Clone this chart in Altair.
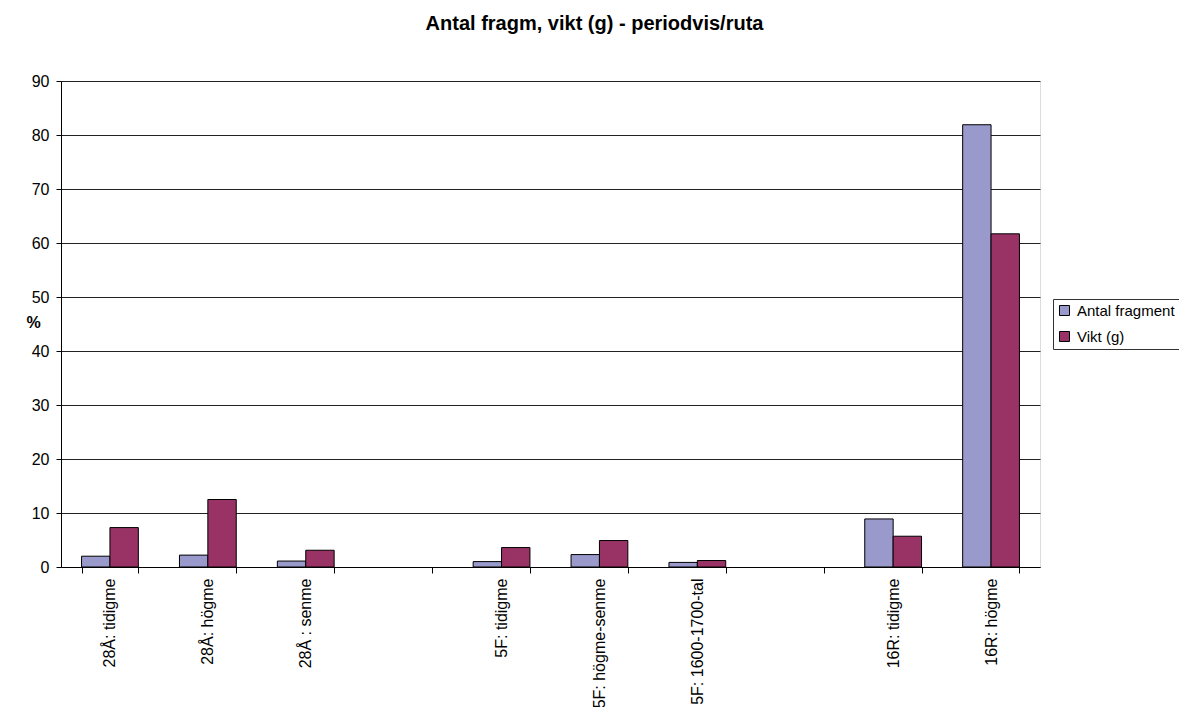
import altair as alt
import pandas as pd

categories = ["28Å: tidigme", "28Å:  högme", "28Å : senme", " ",
              "5F: tidigme", "5F: högme-senme", "5F: 1600-1700-tal", "  ",
              "16R: tidigme", "16R: högme"]
antal_fragment = [2.0, 2.2, 1.1, None, 1.0, 2.3, 0.85, None, 8.9, 81.9]
vikt_g = [7.3, 12.5, 3.1, None, 3.6, 4.9, 1.2, None, 5.7, 61.7]
series = ["Antal fragment", "Vikt (g)"]
colors = ["#9999CC", "#993366"]

rows = []
for c, a, v in zip(categories, antal_fragment, vikt_g):
    if a is not None:
        rows.append({"kategori": c, "serie": series[0], "varde": a})
    if v is not None:
        rows.append({"kategori": c, "serie": series[1], "varde": v})
df = pd.DataFrame(rows)

FONT = "Liberation Sans"

chart = alt.Chart(df).mark_bar(stroke="black", strokeWidth=1).encode(
    x=alt.X("kategori:N", sort=categories,
            scale=alt.Scale(domain=categories, paddingInner=0.42, paddingOuter=0.21),
            axis=alt.Axis(title=None, labelAngle=-90, tickBand="extent",
                          domainColor="black", tickColor="black", tickSize=6,
                          labelFontSize=16, labelFont=FONT, labelColor="black",
                          labelPadding=5, grid=False, labelLimit=300)),
    xOffset=alt.XOffset("serie:N", sort=series),
    y=alt.Y("varde:Q",
            scale=alt.Scale(domain=[0, 90], nice=False),
            axis=alt.Axis(title="%", titleAngle=0, titleX=-28, titleY=241,
                          titleAlign="center", titleBaseline="middle",
                          titleFont=FONT, titleFontSize=16, titleFontWeight="bold",
                          titleColor="black",
                          values=list(range(0, 91, 10)), tickSize=5,
                          domainColor="black", tickColor="black",
                          gridColor="#222222", gridWidth=1,
                          labelFontSize=16, labelFont=FONT, labelColor="black",
                          labelPadding=7)),
    color=alt.Color("serie:N", sort=series,
                    scale=alt.Scale(domain=series, range=colors),
                    legend=alt.Legend(title=None, orient="none", legendX=992, legendY=218,
                                      symbolType="square", symbolSize=100,
                                      symbolStrokeColor="black", symbolStrokeWidth=1,
                                      labelFont=FONT, labelFontSize=15, labelColor="black",
                                      strokeColor="#333333", fillColor="white",
                                      padding=4, rowPadding=10, symbolOffset=0,
                                      labelOffset=5)),
).properties(
    width=979,
    height=486,
    title=alt.TitleParams("Antal fragm, vikt (g) - periodvis/ruta", font=FONT,
                          fontSize=20, fontWeight="bold", color="black",
                          anchor="middle", dx=44, offset=39),
    autosize=alt.AutoSizeParams(type="none"),
    padding={"left": 53, "top": 73, "right": 139, "bottom": 140},
).configure_view(
    stroke="#808080", strokeWidth=1
).configure(background="white")

chart.save("out.html", embed_options={"renderer": "svg", "actions": False})
